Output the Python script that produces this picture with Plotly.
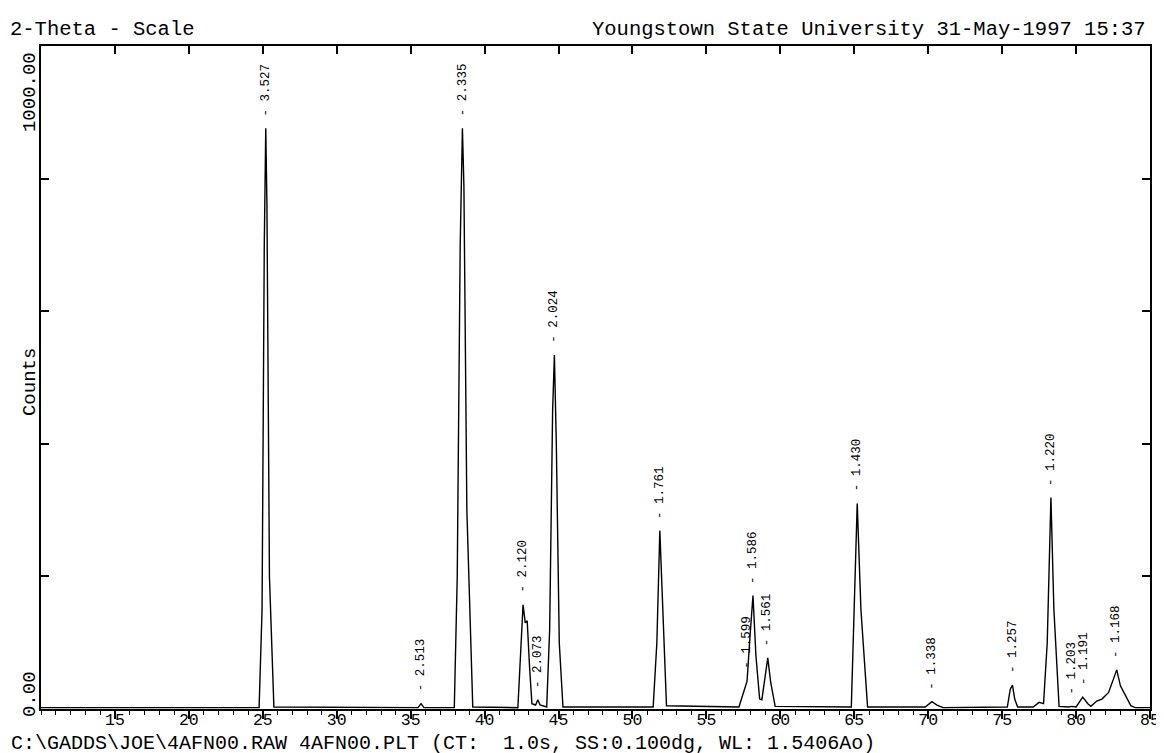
import plotly.graph_objects as go

# ---- data ----
two_theta = [10.0, 24.75, 24.95, 25.1, 25.2, 25.28, 25.45, 25.75,
             35.5, 35.7, 35.9,
             37.95, 38.15, 38.35, 38.5, 38.6, 38.8, 39.2,
             42.25, 42.45, 42.6, 42.75, 42.88, 43.05, 43.2, 43.45, 43.6, 43.75,
             44.2, 44.4, 44.6, 44.72, 44.85, 45.05, 45.3,
             51.4, 51.65, 51.85, 52.0, 52.3,
             57.2, 57.5, 57.75, 57.95, 58.15, 58.35, 58.6, 58.75, 58.95, 59.15, 59.35, 59.65,
             64.8, 65.0, 65.2, 65.45, 65.9,
             69.8, 70.25, 70.6, 71.0,
             75.35, 75.55, 75.7, 75.85, 76.05,
             77.1, 77.5, 77.8, 78.05, 78.3, 78.5, 78.85,
             79.5, 79.7, 80.0, 80.45, 80.8, 81.0, 81.4, 81.75, 82.2, 82.5, 82.75, 83.0, 83.35, 83.7, 84.0, 85.0]
counts = [2, 2, 150, 700, 876, 760, 200, 3,
          2, 8, 2,
          2, 200, 700, 876, 790, 300, 3,
          2, 90, 157, 130, 133, 60, 8, 6, 14, 6,
          3, 120, 450, 534, 400, 100, 3,
          3, 100, 269, 180, 5,
          3, 25, 42, 110, 171, 80, 15, 14, 50, 77, 40, 4,
          3, 150, 310, 150, 3,
          3, 11, 6, 2,
          3, 30, 36, 15, 3,
          3, 10, 8, 100, 319, 150, 4,
          3, 4, 3, 18, 8, 4, 12, 15, 25, 45, 59, 35, 21, 5, 2, 2]

peak_labels = ["3.527", "2.513", "2.335", "2.120", "2.073", "2.024", "1.761", "1.599",
               "1.586", "1.561", "1.430", "1.338", "1.257", "1.220", "1.203", "1.191", "1.168"]
peak_pos = [25.2, 35.7, 38.5, 42.6, 43.6, 44.72, 51.85, 57.75,
            58.15, 59.15, 65.2, 70.3, 75.7, 78.3, 79.7, 80.5, 82.75]
peak_cnt = [876, 8, 876, 157, 14, 534, 269, 42,
            171, 77, 310, 11, 36, 319, 4, 18, 59]

x_tick_vals = [15, 20, 25, 30, 35, 40, 45, 50, 55, 60, 65, 70, 75, 80, 85]
top_tick_vals = [15, 20, 25, 30, 35, 40, 45, 50, 55, 60, 65, 70, 75, 80]
y_tick_vals = [200, 400, 600, 800]

title_left = "2-Theta - Scale"
title_right = "Youngstown State University 31-May-1997 15:37"
caption = "C:\\GADDS\\JOE\\4AFN00.RAW 4AFN00.PLT (CT:  1.0s, SS:0.100dg, WL: 1.5406Ao)"

# ---- layout geometry ----
W, H = 1164, 753
L, R, T, B = 33, 18, 38, 52
PW, PH = W - L - R, H - T - B

def px(x):
    return (x - L) / PW

def py(y):
    return (H - B - y) / PH

FONT = "Liberation Mono, DejaVu Sans Mono, monospace"

fig = go.Figure()
fig.add_trace(go.Scatter(x=two_theta, y=counts, mode="lines",
                         line=dict(color="black", width=1.4), hoverinfo="skip",
                         showlegend=False))
fig.add_trace(go.Scatter(x=[], y=[], xaxis="x2", showlegend=False))

annotations = []
for lab, xp, cp in zip(peak_labels, peak_pos, peak_cnt):
    annotations.append(dict(x=xp, y=cp, xref="x", yref="y", text="- " + lab,
                            textangle=-90, showarrow=False, xanchor="center",
                            yanchor="bottom", yshift=10,
                            font=dict(family=FONT, size=12.5, color="black")))

annotations += [
    dict(x=px(0), y=py(21), xref="paper", yref="paper", text=title_left,
         showarrow=False, xanchor="left", yanchor="middle",
         font=dict(family=FONT, size=20.5, color="black")),
    dict(x=px(1144), y=py(21), xref="paper", yref="paper", text=title_right,
         showarrow=False, xanchor="right", yanchor="middle",
         font=dict(family=FONT, size=20.5, color="black")),
    dict(x=px(2), y=py(735.5), xref="paper", yref="paper", text=caption,
         showarrow=False, xanchor="left", yanchor="middle", borderpad=0,
         font=dict(family=FONT, size=20, color="black")),
    dict(x=px(22), y=py(374), xref="paper", yref="paper", text="Counts",
         textangle=-90, showarrow=False, xanchor="center", yanchor="middle",
         font=dict(family=FONT, size=19, color="black")),
    dict(x=px(22), y=py(42), xref="paper", yref="paper", text="1000.00",
         textangle=-90, showarrow=False, xanchor="center", yanchor="top",
         font=dict(family=FONT, size=19, color="black")),
    dict(x=px(22), y=py(711), xref="paper", yref="paper", text="0.00",
         textangle=-90, showarrow=False, xanchor="center", yanchor="bottom",
         font=dict(family=FONT, size=19, color="black")),
]

fig.update_layout(
    width=W, height=H,
    margin=dict(l=L, r=R, t=T, b=B, pad=0),
    paper_bgcolor="white", plot_bgcolor="white",
    showlegend=False,
    annotations=annotations,
    xaxis=dict(range=[10, 85], tickmode="array", tickvals=x_tick_vals,
               ticktext=[str(v) for v in x_tick_vals],
               ticks="outside", ticklen=8, tickwidth=1.5, tickcolor="black",
               ticklabelstandoff=-14,
               minor=dict(dtick=1, tick0=10, ticks="outside", ticklen=4,
                          tickwidth=1.2, tickcolor="black", showgrid=False),
               showline=True, linecolor="black", linewidth=2, mirror=False,
               showgrid=False, zeroline=False,
               tickfont=dict(family=FONT, size=16.5, color="black")),
    xaxis2=dict(range=[10, 85], overlaying="x", side="top", anchor="y",
                tickmode="array", tickvals=top_tick_vals, ticks="inside",
                ticklen=8, tickwidth=1.5, tickcolor="black",
                showticklabels=False, showline=True, linecolor="black",
                linewidth=2, showgrid=False, zeroline=False),
    yaxis=dict(range=[0, 1000], tickmode="array", tickvals=y_tick_vals,
               ticks="inside", ticklen=8, tickwidth=1.5, tickcolor="black",
               showticklabels=False, showline=True, linecolor="black",
               linewidth=2, mirror="ticks", showgrid=False, zeroline=False),
)

fig.write_html("out.html")
